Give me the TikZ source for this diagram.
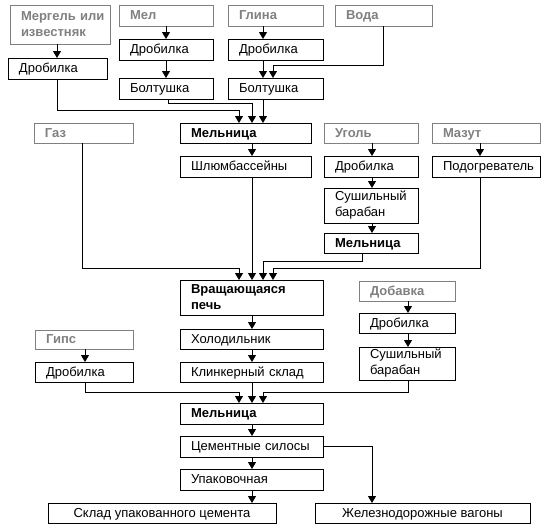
\documentclass[tikz,border=0pt]{standalone}
\usepackage{fontspec}
\setmainfont{Liberation Sans}
\usetikzlibrary{arrows.meta}
\definecolor{hg}{RGB}{128,128,128}
\begin{document}
\begin{tikzpicture}[x=1pt,y=-1pt,
  bx/.style={draw, line width=1pt, anchor=north west, inner xsep=11pt, inner ysep=0pt, outer sep=0pt, align=left, font=\fontsize{13}{16}\selectfont},
  hd/.style={bx, draw=hg, text=hg, font=\fontsize{13}{16}\selectfont\bfseries},
  bd/.style={bx, font=\fontsize{13}{16}\selectfont\bfseries},
  one/.style={text height=10.5pt, text depth=2pt},
  ctr/.style={bx, align=center, one},
  arr/.style={line width=1pt, -{Triangle[width=8pt,length=7pt]}}]
\useasboundingbox (0,0) rectangle (550,530);
% row 1
\node[hd, minimum width=100pt, minimum height=39pt, text width=78pt] (merg) at (10,5) {\mbox{Мергель или}\\\mbox{известняк}};
\node[hd, one, minimum width=94pt, minimum height=21pt, text width=72pt] (mel) at (119,5) {Мел};
\node[hd, one, minimum width=95pt, minimum height=21pt, text width=73pt] (glina) at (228,5) {Глина};
\node[hd, one, minimum width=97pt, minimum height=21pt, text width=75pt] (voda) at (335,5) {Вода};
% row 2
\node[bx, one, minimum width=99pt, minimum height=21pt, text width=77pt] (dra) at (8,58) {Дробилка};
\node[bx, one, minimum width=94pt, minimum height=21pt, text width=72pt] (drb) at (119,39) {Дробилка};
\node[bx, one, minimum width=95pt, minimum height=21pt, text width=73pt] (drc) at (228,39) {Дробилка};
\node[bx, one, minimum width=94pt, minimum height=21pt, text width=72pt] (bolb) at (119,78) {Болтушка};
\node[bx, one, minimum width=95pt, minimum height=21pt, text width=73pt] (bolc) at (228,78) {Болтушка};
% row 3
\node[hd, one, minimum width=99pt, minimum height=20pt, text width=77pt] (gaz) at (34,123) {Газ};
\node[bd, one, minimum width=131pt, minimum height=20pt, text width=109pt] (melA) at (180,123) {Мельница};
\node[hd, one, minimum width=94pt, minimum height=20pt, text width=72pt] (ugol) at (324,123) {Уголь};
\node[hd, one, minimum width=108pt, minimum height=20pt, text width=86pt] (mazut) at (432,123) {Мазут};
% row 4
\node[bx, one, minimum width=131pt, minimum height=21pt, text width=109pt] (shl) at (180,156) {\mbox{Шлюмбассейны}};
\node[bx, one, minimum width=94pt, minimum height=21pt, text width=72pt] (drd) at (324,156) {Дробилка};
\node[bx, one, minimum width=108pt, minimum height=21pt, text width=86pt] (podog) at (432,156) {\mbox{Подогреватель}};
\node[bx, minimum width=94pt, minimum height=35pt, text width=72pt] (sushA) at (324,188) {\mbox{Сушильный}\\\mbox{барабан}};
\node[bd, one, minimum width=94pt, minimum height=20pt, text width=72pt] (melB) at (324,233) {Мельница};
% kiln block
\node[bd, minimum width=143pt, minimum height=35pt, text width=121pt] (pech) at (180,280) {\mbox{Вращающаяся}\\\mbox{печь}};
\node[hd, one, minimum width=96pt, minimum height=20pt, text width=74pt] (dob) at (359,281) {Добавка};
\node[bx, one, minimum width=96pt, minimum height=20pt, text width=74pt] (dre) at (359,313) {Дробилка};
\node[bx, minimum width=96pt, minimum height=33pt, text width=74pt] (sushB) at (359,347) {\mbox{Сушильный}\\\mbox{барабан}};
\node[bx, one, minimum width=143pt, minimum height=20pt, text width=121pt] (hol) at (180,329) {Холодильник};
\node[bx, one, minimum width=143pt, minimum height=20pt, text width=121pt] (klink) at (180,362) {\mbox{Клинкерный склад}};
\node[hd, one, minimum width=98pt, minimum height=19pt, text width=76pt] (gips) at (35,330) {Гипс};
\node[bx, one, minimum width=98pt, minimum height=20pt, text width=76pt] (drf) at (35,362) {Дробилка};
% cement block
\node[bd, one, minimum width=143pt, minimum height=21pt, text width=121pt] (melC) at (180,403) {Мельница};
\node[bx, one, minimum width=143pt, minimum height=21pt, text width=121pt] (silos) at (180,436) {\mbox{Цементные силосы}};
\node[bx, one, minimum width=143pt, minimum height=21pt, text width=121pt] (upak) at (180,469) {Упаковочная};
\node[ctr, minimum width=228pt, minimum height=20pt] (sklad) at (48,503) {Склад упакованного цемента};
\node[ctr, minimum width=215pt, minimum height=20pt] (zhd) at (315,503) {Железнодорожные вагоны};
% connectors
\draw[arr] (merg.south -| 57,0) -- (dra.north -| 57,0);
\draw[arr] (mel.south -| 166,0) -- (drb.north -| 166,0);
\draw[arr] (drb.south -| 166,0) -- (bolb.north -| 166,0);
\draw[arr] (glina.south -| 263,0) -- (drc.north -| 263,0);
\draw[arr] (drc.south -| 263,0) -- (bolc.north -| 263,0);
\draw[arr] (voda.south -| 383,0) |- (273,65) -- (bolc.north -| 273,0);
\draw[arr] (dra.south -| 57,0) |- (239,110) -- (melA.north -| 239,0);
\draw[arr] (bolb.south -| 168,0) |- (252,103) -- (melA.north -| 252,0);
\draw[arr] (bolc.south -| 263,0) -- (melA.north -| 263,0);
\draw[arr] (melA.south -| 252,0) -- (shl.north -| 252,0);
\draw[arr] (ugol.south -| 372,0) -- (drd.north -| 372,0);
\draw[arr] (drd.south -| 372,0) -- (sushA.north -| 372,0);
\draw[arr] (sushA.south -| 372,0) -- (melB.north -| 372,0);
\draw[arr] (mazut.south -| 480,0) -- (podog.north -| 480,0);
\draw[arr] (gaz.south -| 82,0) |- (239,268) -- (pech.north -| 239,0);
\draw[arr] (shl.south -| 252,0) -- (pech.north -| 252,0);
\draw[arr] (melB.south -| 362,0) |- (263,261) -- (pech.north -| 263,0);
\draw[arr] (podog.south -| 480,0) |- (273,268) -- (pech.north -| 273,0);
\draw[arr] (pech.south -| 252,0) -- (hol.north -| 252,0);
\draw[arr] (hol.south -| 252,0) -- (klink.north -| 252,0);
\draw[arr] (dob.south -| 408,0) -- (dre.north -| 408,0);
\draw[arr] (dre.south -| 408,0) -- (sushB.north -| 408,0);
\draw[arr] (gips.south -| 85,0) -- (drf.north -| 85,0);
\draw[arr] (drf.south -| 85,0) |- (239,392) -- (melC.north -| 239,0);
\draw[arr] (klink.south -| 252,0) -- (melC.north -| 252,0);
\draw[arr] (sushB.south -| 408,0) |- (263,392) -- (melC.north -| 263,0);
\draw[arr] (melC.south -| 252,0) -- (silos.north -| 252,0);
\draw[arr] (silos.south -| 252,0) -- (upak.north -| 252,0);
\draw[arr] (upak.south -| 252,0) -- (sklad.north -| 252,0);
\draw[arr] (silos.east) -| (zhd.north -| 372,0);
\end{tikzpicture}
\end{document}
